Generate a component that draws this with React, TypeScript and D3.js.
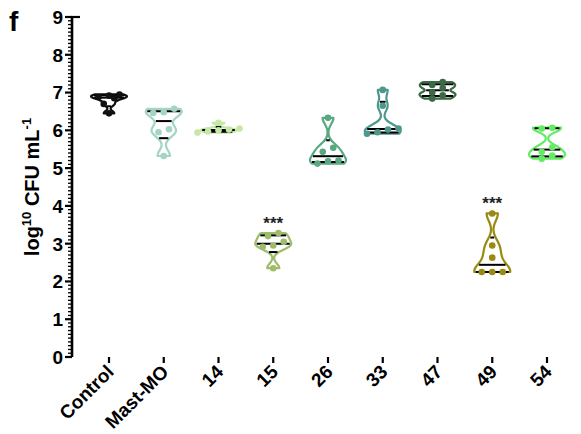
import React, { useEffect, useRef } from "react";
import * as d3 from "d3";

const categories = ["Control", "Mast-MO", "14", "15", "26", "33", "47", "49", "54"];
const control = [6.95, 6.92, 6.88, 6.85, 6.7, 6.45];
const mastMO = [6.57, 6.48, 6.46, 6.03, 5.95, 5.32];
const s14 = [6.2, 6.05, 6.02, 6.0, 5.97, 5.94];
const s15 = [3.28, 3.2, 3.05, 2.95, 2.92, 2.35];
const s26 = [6.33, 5.54, 5.43, 5.2, 5.18, 5.12];
const s33 = [7.07, 6.65, 6.05, 6.02, 5.95, 5.91];
const s47 = [7.28, 7.2, 7.12, 7.0, 6.93, 6.84];
const s49 = [3.8, 2.95, 2.63, 2.25, 2.25, 2.25];
const s54 = [6.07, 6.05, 5.55, 5.43, 5.33, 5.25];
const colors = ["#111111", "#a3d5c3", "#c5e8a8", "#9dbd6b", "#5aa882", "#4e978c", "#3b6a46", "#998a12", "#63ec63"];
const significant = ["15", "49"];
const yTicks = d3.range(0, 10);

const width = 581;
const height = 434;
const font = "'Liberation Sans', Arial, sans-serif";

// prism style quartiles: position p*(n+1)
const quart = (sorted: number[], p: number) => {
  const n = sorted.length;
  const pos = p * (n + 1) - 1;
  if (pos <= 0) return sorted[0];
  if (pos >= n - 1) return sorted[n - 1];
  const lo = Math.floor(pos);
  return sorted[lo] + (pos - lo) * (sorted[lo + 1] - sorted[lo]);
};

const App = () => {
  const chart = useRef<SVGSVGElement>(null);

  useEffect(() => {
    const groups = [control, mastMO, s14, s15, s26, s33, s47, s49, s54];
    const svg = d3.select(chart.current);
    svg.selectAll("*").remove();

    const y = d3.scaleLinear().domain([0, 9]).range([357, 17]);
    const x = d3.scalePoint<string>().domain(categories).range([109, 547]);
    const axisX = 72;

    // y axis
    const ya = svg.append("g");
    ya.append("line").attr("x1", axisX).attr("x2", axisX).attr("y1", y(9) - 1).attr("y2", y(0))
      .attr("stroke", "#000").attr("stroke-width", 2.6);
    ya.append("line").attr("x1", axisX - 1).attr("x2", axisX + 8).attr("y1", y(9)).attr("y2", y(9))
      .attr("stroke", "#000").attr("stroke-width", 2.2);
    ya.selectAll("line.minor")
      .data(d3.range(0, 90).map(i => i / 10).filter(v => Math.abs(v - Math.round(v)) > 0.01))
      .join("line")
      .attr("class", "minor")
      .attr("x1", axisX - 4).attr("x2", axisX)
      .attr("y1", d => y(d)).attr("y2", d => y(d))
      .attr("stroke", "#000").attr("stroke-width", 1.3);
    ya.selectAll("line.major")
      .data(yTicks)
      .join("line")
      .attr("class", "major")
      .attr("x1", axisX - 7).attr("x2", axisX)
      .attr("y1", d => y(d)).attr("y2", d => y(d))
      .attr("stroke", "#000").attr("stroke-width", 2.2);
    ya.selectAll("text")
      .data(yTicks)
      .join("text")
      .attr("x", axisX - 9)
      .attr("y", d => y(d))
      .attr("dy", "0.36em")
      .attr("text-anchor", "end")
      .attr("font-family", font)
      .attr("font-weight", "bold")
      .attr("font-size", 19)
      .text(d => d);

    // x axis
    const xa = svg.append("g");
    xa.append("line").attr("x1", axisX - 1.3).attr("x2", width + 5).attr("y1", y(0)).attr("y2", y(0))
      .attr("stroke", "#000").attr("stroke-width", 2.6);
    xa.selectAll("line")
      .data(categories)
      .join("line")
      .attr("x1", d => x(d)!).attr("x2", d => x(d)!)
      .attr("y1", y(0)).attr("y2", y(0) + 6)
      .attr("stroke", "#000").attr("stroke-width", 2.2);
    xa.selectAll("text")
      .data(categories)
      .join("text")
      .attr("transform", d => `translate(${x(d)! + 6},${y(0) + 16}) rotate(-45)`)
      .attr("text-anchor", "end")
      .attr("font-family", font)
      .attr("font-weight", "bold")
      .attr("font-size", 19)
      .text(d => d);

    // axis title
    const title = svg.append("text")
      .attr("transform", `translate(39,${(y(0) + y(9)) / 2}) rotate(-90)`)
      .attr("text-anchor", "middle")
      .attr("font-family", font)
      .attr("font-weight", "bold")
      .attr("font-size", 20);
    title.append("tspan").text("log");
    title.append("tspan").attr("font-size", 13).attr("dy", -8).text("10");
    title.append("tspan").attr("dy", 8).text(" CFU mL");
    title.append("tspan").attr("font-size", 13).attr("dy", -8).text("-1");

    svg.append("text")
      .attr("x", 9).attr("y", 31)
      .attr("font-family", font)
      .attr("font-weight", "bold")
      .attr("font-size", 28)
      .text("f");

    // violins
    const halfW = 18;
    groups.forEach((vals, gi) => {
      const cat = categories[gi];
      const cx = x(cat)!;
      const color = colors[gi];
      const sorted = [...vals].sort((a, b) => a - b);
      const lo = sorted[0];
      const hi = sorted[sorted.length - 1];
      const bw = Math.max((hi - lo) * 0.13, 0.03);
      const dens = (v: number) => d3.sum(vals, xi => Math.exp(-0.5 * ((v - xi) / bw) ** 2));
      const grid = d3.range(0, 61).map(i => lo + (hi - lo) * i / 60);
      const maxD = d3.max(grid, dens)!;
      const w = (v: number) => dens(v) / maxD * halfW;

      const area = d3.area<number>()
        .x0(v => cx - w(v))
        .x1(v => cx + w(v))
        .y(v => y(v))
        .curve(d3.curveBasis);

      const g = svg.append("g");
      g.append("path")
        .attr("d", area(grid)!)
        .attr("fill", "#fff")
        .attr("stroke", color)
        .attr("stroke-width", 2.2)
        .attr("stroke-linejoin", "round");

      const qs = [0.25, 0.5, 0.75].map(p => quart(sorted, p));
      g.selectAll("line")
        .data(qs)
        .join("line")
        .attr("x1", q => cx - w(q) + 1.5)
        .attr("x2", q => cx + w(q) - 1.5)
        .attr("y1", q => y(q)).attr("y2", q => y(q))
        .attr("stroke", "#000")
        .attr("stroke-width", 2);

      // spread points that sit at nearly the same height
      const pts: { v: number; dx: number }[] = [];
      let cluster: number[] = [];
      const flush = () => {
        cluster.forEach((v, i) => pts.push({ v, dx: (i - (cluster.length - 1) / 2) * 10.5 }));
        cluster = [];
      };
      sorted.forEach(v => {
        if (cluster.length && Math.abs(y(v) - y(cluster[0])) > 6) flush();
        cluster.push(v);
      });
      flush();

      g.selectAll("circle")
        .data(pts)
        .join("circle")
        .attr("cx", d => cx + d.dx)
        .attr("cy", d => y(d.v))
        .attr("r", 3.3)
        .attr("fill", color);

      if (significant.includes(cat)) {
        g.append("text")
          .attr("x", cx)
          .attr("y", y(hi) - 4)
          .attr("text-anchor", "middle")
          .attr("font-family", font)
          .attr("font-weight", "bold")
          .attr("font-size", 17)
          .attr("fill", "#222")
          .text("***");
      }
    });
  }, []);

  return <svg ref={chart} width={width} height={height} style={{ position: "absolute", left: 0, top: 0 }}></svg>;
};

export default App;
